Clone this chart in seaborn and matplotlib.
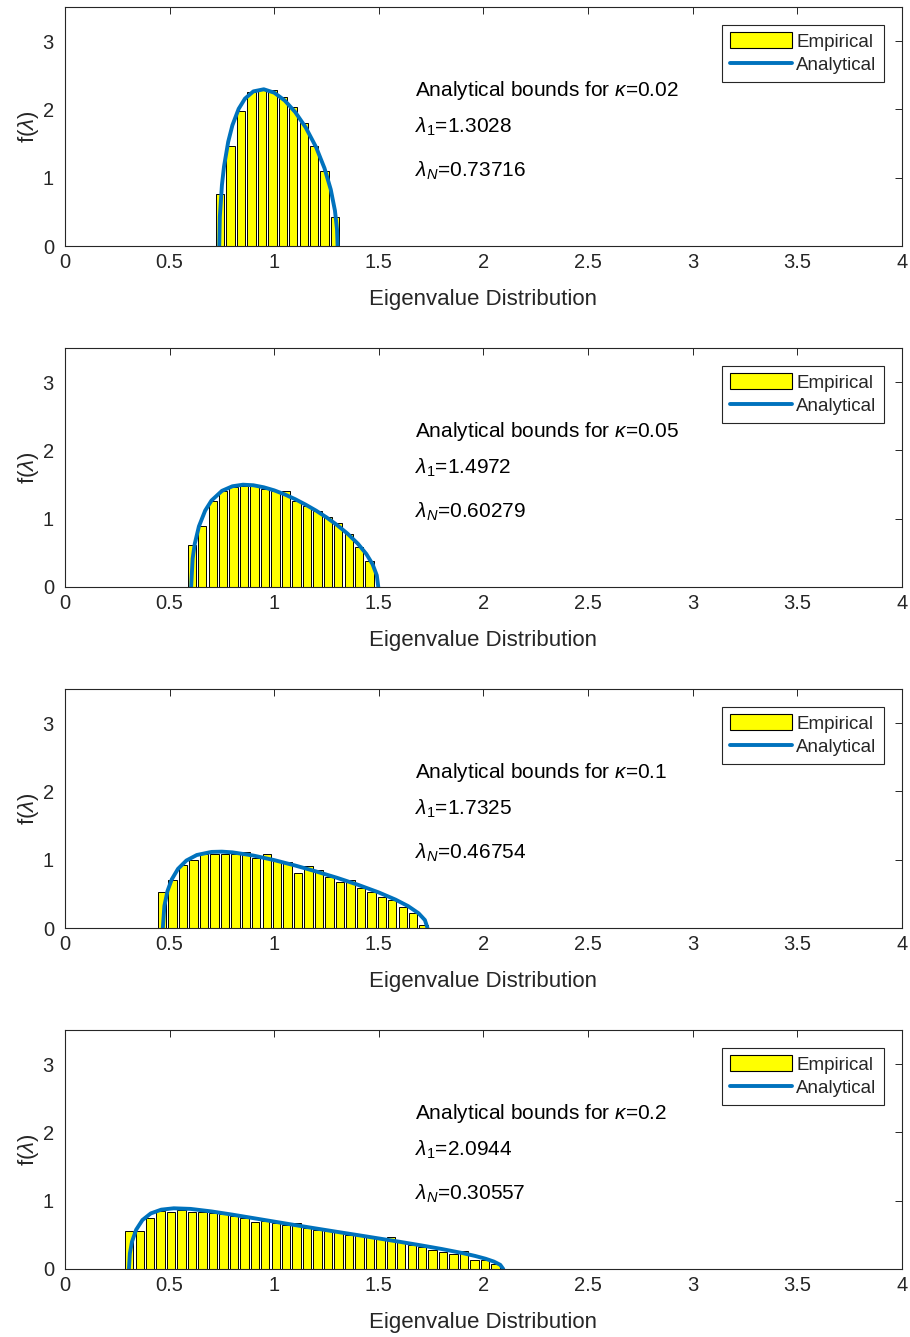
import numpy as np
import pandas as pd
import matplotlib
matplotlib.use("Agg")
import matplotlib.pyplot as plt
from matplotlib.patches import Patch
from matplotlib.lines import Line2D
import seaborn as sns

# ---- data -------------------------------------------------------------
kappas = ["0.02", "0.05", "0.1", "0.2"]
lambda_1 = ["1.3028", "1.4972", "1.7325", "2.0944"]
lambda_N = ["0.73716", "0.60279", "0.46754", "0.30557"]

bin_width = 0.05
first_centers = [0.741, 0.606, 0.464, 0.307]

# empirical histogram heights (normalised eigenvalue counts)
emp_k002 = [0.755, 1.47, 1.97, 2.26, 2.28, 2.28, 2.18, 2.03, 1.80, 1.47, 1.10, 0.42]
emp_k005 = [0.61, 0.89, 1.26, 1.40, 1.46, 1.48, 1.48, 1.44, 1.40, 1.41, 1.26, 1.19,
            1.12, 1.02, 0.93, 0.77, 0.58, 0.38]
emp_k010 = [0.53, 0.70, 0.92, 1.00, 1.08, 1.09, 1.09, 1.08, 1.12, 1.03, 1.09, 0.98,
            0.97, 0.81, 0.91, 0.85, 0.75, 0.68, 0.71, 0.58, 0.53, 0.46, 0.41, 0.31,
            0.22, 0.05]
emp_k020 = [0.56, 0.55, 0.75, 0.85, 0.84, 0.87, 0.84, 0.835, 0.82, 0.80, 0.775, 0.75,
            0.69, 0.71, 0.67, 0.65, 0.68, 0.60, 0.57, 0.55, 0.535, 0.505, 0.50, 0.47,
            0.45, 0.47, 0.40, 0.35, 0.325, 0.285, 0.25, 0.22, 0.265, 0.13, 0.13, 0.08]

# analytical density curves
ana_x_k002 = [0.73716, 0.74, 0.75, 0.76, 0.78, 0.80, 0.83, 0.86, 0.90, 0.95, 1.00, 1.05,
              1.10, 1.15, 1.20, 1.24, 1.27, 1.29, 1.30, 1.3028]
ana_y_k002 = [0.0, 0.430, 0.894, 1.166, 1.527, 1.768, 2.009, 2.158, 2.264, 2.295, 2.245,
              2.131, 1.962, 1.738, 1.447, 1.140, 0.828, 0.519, 0.243, 0.0]
ana_x_k005 = [0.60279, 0.61, 0.62, 0.64, 0.67, 0.70, 0.75, 0.80, 0.85, 0.90, 0.95, 1.00,
              1.05, 1.10, 1.15, 1.20, 1.25, 1.30, 1.35, 1.40, 1.44, 1.47, 1.49, 1.4972]
ana_y_k005 = [0.0, 0.417, 0.631, 0.888, 1.120, 1.266, 1.408, 1.475, 1.498, 1.490, 1.460,
              1.415, 1.356, 1.286, 1.206, 1.118, 1.019, 0.908, 0.782, 0.633, 0.484,
              0.333, 0.171, 0.0]
ana_x_k010 = [0.46754, 0.475, 0.49, 0.51, 0.54, 0.58, 0.63, 0.70, 0.75, 0.80, 0.90, 1.00,
              1.10, 1.20, 1.30, 1.40, 1.50, 1.58, 1.64, 1.69, 1.72, 1.7325]
ana_y_k010 = [0.0, 0.325, 0.543, 0.711, 0.866, 0.988, 1.069, 1.114, 1.118, 1.108, 1.061,
              0.994, 0.915, 0.828, 0.735, 0.633, 0.520, 0.415, 0.320, 0.215, 0.116, 0.0]
ana_x_k020 = [0.30557, 0.31, 0.32, 0.34, 0.37, 0.41, 0.46, 0.52, 0.60, 0.70, 0.80, 0.90,
              1.00, 1.10, 1.20, 1.30, 1.40, 1.50, 1.60, 1.70, 1.80, 1.90, 1.96, 2.01,
              2.05, 2.08, 2.0944]
ana_y_k020 = [0.0, 0.228, 0.398, 0.575, 0.717, 0.814, 0.869, 0.889, 0.880, 0.843, 0.796,
              0.745, 0.694, 0.643, 0.593, 0.544, 0.496, 0.447, 0.398, 0.347, 0.293,
              0.233, 0.191, 0.150, 0.108, 0.061, 0.0]

empirical = [emp_k002, emp_k005, emp_k010, emp_k020]
ana_x = [ana_x_k002, ana_x_k005, ana_x_k010, ana_x_k020]
ana_y = [ana_y_k002, ana_y_k005, ana_y_k010, ana_y_k020]

x_ticks = [0, 0.5, 1, 1.5, 2, 2.5, 3, 3.5, 4]
x_tick_labels = ["0", "0.5", "1", "1.5", "2", "2.5", "3", "3.5", "4"]
y_ticks = [0, 1, 2, 3]

# ---- style ------------------------------------------------------------
sns.set_theme(style="white")
plt.rcParams["font.family"] = ["Liberation Sans", "DejaVu Sans"]
plt.rcParams["mathtext.fontset"] = "custom"
plt.rcParams["mathtext.rm"] = "Liberation Sans"
plt.rcParams["mathtext.it"] = "Liberation Sans:italic"

INK = "#262626"
YELLOW = "#FFFF00"
BLUE = "#0072BD"

W, H = 910, 1337
fig = plt.figure(figsize=(W / 100, H / 100), dpi=100)

ax_left, ax_right = 65, 902
ax_h = 239
first_bottom = 246
step = 341

for i in range(4):
    bottom_px = first_bottom + i * step
    ax = fig.add_axes([ax_left / W, 1 - bottom_px / H,
                       (ax_right - ax_left) / W, ax_h / H])

    heights = empirical[i]
    centers = first_centers[i] + bin_width * np.arange(len(heights))
    hist_df = pd.DataFrame({"lam": centers, "dens": heights})
    sns.barplot(data=hist_df, x="lam", y="dens", native_scale=True, width=0.8,
                color=YELLOW, saturation=1, edgecolor="black", linewidth=0.7,
                errorbar=None, ax=ax)

    curve_df = pd.DataFrame({"lam": ana_x[i], "dens": ana_y[i]})
    sns.lineplot(data=curve_df, x="lam", y="dens", color=BLUE, linewidth=2.8,
                 ax=ax)

    ax.set_xlim(0, 4)
    ax.set_ylim(0, 3.5)
    ax.set_xticks(x_ticks)
    ax.set_xticklabels(x_tick_labels)
    ax.set_yticks(y_ticks)
    ax.tick_params(direction="in", top=True, right=True, length=5, width=0.7,
                   color=INK, labelcolor=INK, labelsize=14.5)
    ax.tick_params(axis="x", pad=5)
    ax.tick_params(axis="y", pad=8)
    for sp in ax.spines.values():
        sp.set_color(INK)
        sp.set_linewidth(0.8)

    ax.set_xlabel("Eigenvalue Distribution", fontsize=16, color=INK, labelpad=12)
    ax.set_ylabel(r"f($\lambda$)", fontsize=16, color=INK, labelpad=1)

    ax.text(1.673, 2.27, r"Analytical bounds for $\kappa$=" + kappas[i],
            fontsize=15, color="black", va="center", ha="left")
    ax.text(1.673, 1.74, r"$\lambda_1$=" + lambda_1[i],
            fontsize=15, color="black", va="center", ha="left")
    ax.text(1.673, 1.10, r"$\lambda_N$=" + lambda_N[i],
            fontsize=15, color="black", va="center", ha="left")

    handles = [Patch(facecolor=YELLOW, edgecolor="black", linewidth=0.8),
               Line2D([0], [0], color=BLUE, linewidth=2.8)]
    leg = ax.legend(handles, ["Empirical", "Analytical"], loc="upper right",
                    fontsize=13.5, frameon=True, fancybox=False, framealpha=1,
                    edgecolor=INK, borderaxespad=0.95, borderpad=0.4,
                    handlelength=3.3, handleheight=0.9, handletextpad=0.25,
                    labelspacing=0.3)
    leg.get_frame().set_linewidth(0.8)

fig.savefig("out.png", dpi=100)
